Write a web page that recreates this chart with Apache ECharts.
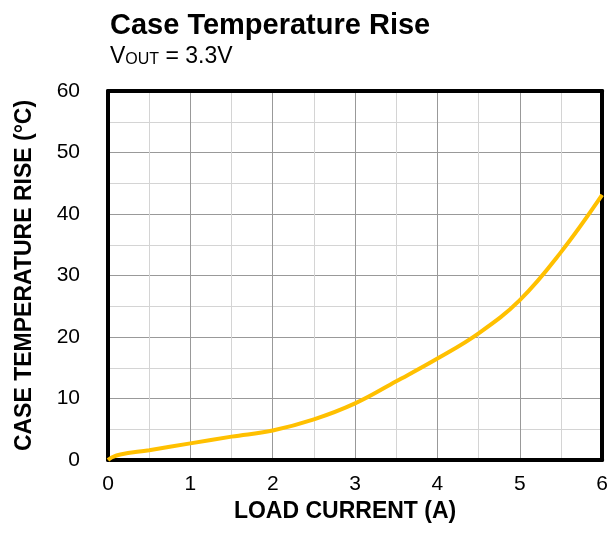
<!DOCTYPE html>
<html>
<head>
<meta charset="utf-8">
<script src="https://cdn.jsdelivr.net/npm/echarts@6/dist/echarts.min.js"></script>
<style>
html,body{margin:0;padding:0;background:#fff;}
#chart{width:611px;height:533px;}
</style>
</head>
<body>
<div id="chart"></div>
<script>
const loadCurrent = [0, 0.05, 0.15, 0.5, 1, 1.5, 2, 2.5, 3, 3.5, 4, 4.5, 5, 5.5, 6];
const tempRise    = [0, 0.45, 0.9, 1.6, 2.7, 3.8, 4.8, 6.6, 9.2, 12.8, 16.5, 20.6, 26.0, 33.8, 43.1];
const xTicks = [0, 1, 2, 3, 4, 5, 6];
const yTicks = [0, 10, 20, 30, 40, 50, 60];

const FONT = '"Liberation Sans", Arial, sans-serif';
const chart = echarts.init(document.getElementById('chart'), null, {renderer: 'canvas'});

const seriesData = loadCurrent.map((x, i) => [x, tempRise[i]]);

chart.setOption({
  animation: false,
  backgroundColor: '#fff',
  title: [
    {
      text: 'Case Temperature Rise',
      left: 105, top: 6,
      textStyle: {fontFamily: FONT, fontSize: 29, fontWeight: 'bold', color: '#000', lineHeight: 29}
    },
    {
      text: '{v|V}{s|OUT}{v| = 3.3V}',
      left: 105, top: 40,
      textStyle: {
        fontFamily: FONT, fontSize: 23, fontWeight: 'normal', color: '#000',
        rich: {
          v: {fontFamily: FONT, fontSize: 23, fontWeight: 'normal', lineHeight: 23, color: '#000', verticalAlign: 'bottom'},
          s: {fontFamily: FONT, fontSize: 16, fontWeight: 'normal', lineHeight: 16, color: '#000', verticalAlign: 'bottom'}
        }
      }
    }
  ],
  grid: {left: 108, right: 8, top: 91, bottom: 73, containLabel: false},
  xAxis: [
    {
      type: 'value', min: xTicks[0], max: xTicks[xTicks.length - 1], interval: 1,
      name: 'LOAD CURRENT (A)', nameLocation: 'middle', nameGap: 39,
      nameTextStyle: {fontFamily: FONT, fontSize: 23, fontWeight: 'bold', color: '#000', padding: [0, 20, 0, 0]},
      axisLine: {show: true, onZero: false, lineStyle: {color: '#000', width: 4}},
      axisTick: {show: false},
      axisLabel: {fontFamily: FONT, fontSize: 21, color: '#000', margin: 14},
      splitLine: {show: true, lineStyle: {color: '#999', width: 1}},
      minorTick: {show: false, splitNumber: 2},
      minorSplitLine: {show: true, lineStyle: {color: '#d4d4d4', width: 1}}
    },
    {
      type: 'value', position: 'top', min: 0, max: 6, interval: 1,
      axisLine: {show: true, onZero: false, lineStyle: {color: '#000', width: 4}},
      axisTick: {show: false}, axisLabel: {show: false}, splitLine: {show: false}
    }
  ],
  yAxis: [
    {
      type: 'value', min: yTicks[0], max: yTicks[yTicks.length - 1], interval: 10,
      name: 'CASE TEMPERATURE RISE (°C)', nameLocation: 'middle', nameGap: 72, nameRotate: 90,
      nameTextStyle: {fontFamily: FONT, fontSize: 23, fontWeight: 'bold', color: '#000'},
      axisLine: {show: true, onZero: false, lineStyle: {color: '#000', width: 4}},
      axisTick: {show: false},
      axisLabel: {fontFamily: FONT, fontSize: 21, color: '#000', margin: 28},
      splitLine: {show: true, lineStyle: {color: '#999', width: 1}},
      minorTick: {show: false, splitNumber: 2},
      minorSplitLine: {show: true, lineStyle: {color: '#d4d4d4', width: 1}}
    },
    {
      type: 'value', position: 'right', min: 0, max: 60, interval: 10,
      axisLine: {show: true, onZero: false, lineStyle: {color: '#000', width: 4}},
      axisTick: {show: false}, axisLabel: {show: false}, splitLine: {show: false}
    }
  ],
  series: [
    {
      type: 'line',
      data: seriesData,
      smooth: 0.4,
      showSymbol: false,
      symbol: 'none',
      lineStyle: {color: '#FFC000', width: 4},
      z: 5
    }
  ]
});
</script>
</body>
</html>
